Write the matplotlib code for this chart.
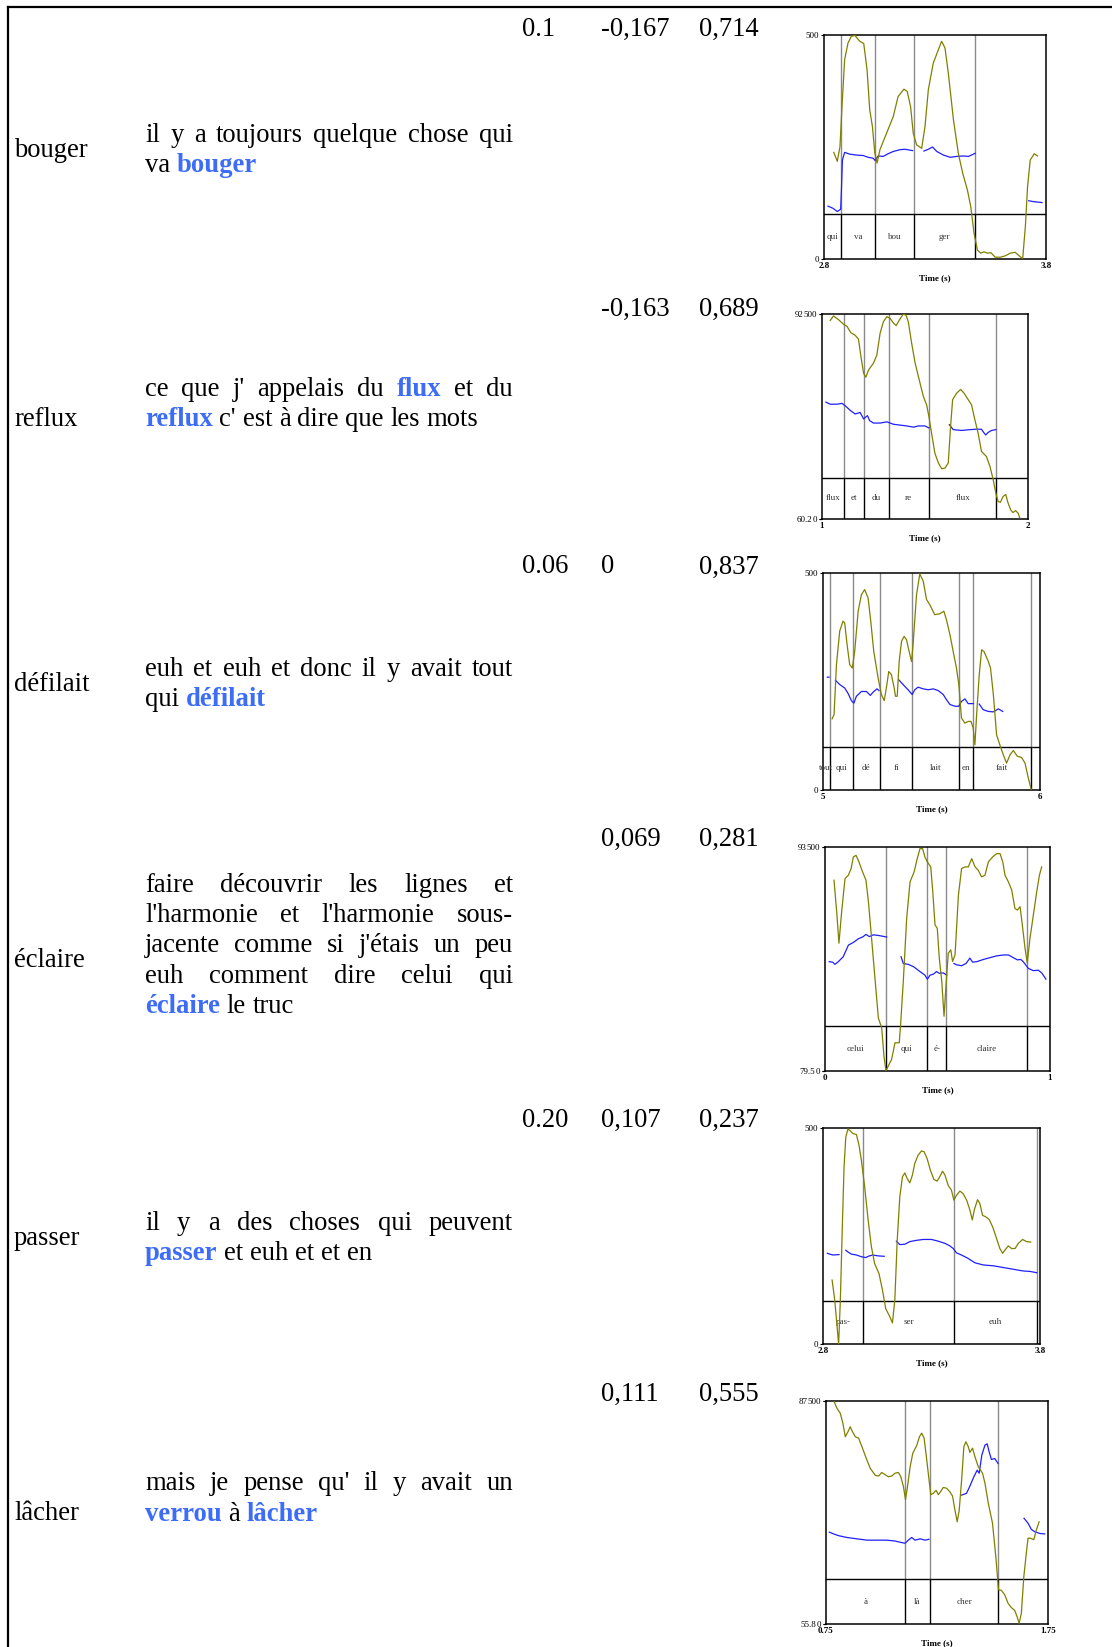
import matplotlib
matplotlib.use('Agg')
import matplotlib.pyplot as plt
from matplotlib.lines import Line2D

NAN = float('nan')

# ---------------- table data ----------------
row_words = ['bouger', 'reflux', 'défilait', 'éclaire', 'passer', 'lâcher']
sentences = [
    ["il y a toujours quelque chose qui", "va *bouger*"],
    ["ce que j' appelais du *flux* et du", "*reflux* c' est à dire que les mots"],
    ["euh et euh et donc il y avait tout", "qui *défilait*"],
    ["faire découvrir les lignes et", "l'harmonie et l'harmonie sous-",
     "jacente comme si j'étais un peu", "euh comment dire celui qui", "*éclaire* le truc"],
    ["il y a des choses qui peuvent", "*passer* et euh et et en"],
    ["mais je pense qu' il y avait un", "*verrou* à *lâcher*"],
]
col_a = ['0.1', '', '0.06', '', '0.20', '']
col_b = ['-0,167', '-0,163', '0', '0,069', '0,107', '0,111']
col_c = ['0,714', '0,689', '0,837', '0,281', '0,237', '0,555']

# ---------------- plot data ----------------
# plot 1
p1_time = (2.8, 3.8)
p1_olive_range = (0, 500)
p1_olive_labels = None
p1_xlabels = ('2.8', '3.8')
p1_bounds = [2.878, 3.030, 3.204, 3.481]
p1_tier = ['qui', 'va', 'bou', 'ger', '']
p1_olive_t = [2.844, 2.860, 2.872, 2.881, 2.893, 2.908, 2.923, 2.939, 2.961, 2.979, 2.994, 3.006, 3.018, 3.029,
              3.039, 3.052, 3.082, 3.112, 3.134, 3.160, 3.175, 3.190, 3.202, 3.217, 3.240, 3.255, 3.270, 3.292,
              3.315, 3.330, 3.345, 3.360, 3.383, 3.405, 3.425, 3.446, 3.461, 3.476, 3.491, 3.506, 3.521, 3.536,
              3.552, 3.571, 3.594, 3.616, 3.639, 3.661, 3.684, 3.695, 3.707, 3.717, 3.729, 3.747, 3.762]
p1_olive_v = [238, 218, 251, 340, 445, 482, 497, 499, 486, 481, 422, 333, 296, 236, 214, 244, 281, 318, 363, 379,
              374, 340, 281, 255, 247, 296, 378, 437, 467, 486, 471, 415, 311, 236, 191, 154, 117, 57, 20, 13, 16,
              13, 14, 4, 4, 7, 13, 15, 5, 1, 72, 162, 221, 235, 230]
p1_pitch_t = [2.818, 2.841, 2.860, 2.875, 2.878, 2.883, 2.893, 2.916, 2.946, 2.976, 2.999, 3.021, 3.030, 3.044,
              3.067, 3.089, 3.112, 3.142, 3.164, 3.199, NAN,
              3.250, 3.270, 3.289, 3.308, 3.338, 3.368, 3.398, 3.428, 3.451, 3.481, NAN,
              3.722, 3.744, 3.782]
p1_pitch_v = [118, 113, 106, 111, 147, 221, 238, 234, 232, 231, 227, 225, 220, 230, 229, 235, 240, 244, 245, 242,
              NAN, 241, 245, 250, 240, 232, 227, 229, 230, 229, 236, NAN, 130, 128, 126]

# plot 2
p2_time = (1, 2)
p2_olive_range = (60.2, 92)
p2_olive_labels = ('60.2', '92')
p2_xlabels = ('1', '2')
p2_bounds = [1.105, 1.202, 1.323, 1.519, 1.847]
p2_tier = ['flux', 'et', 'du', 're', 'flux', '']
p2_olive_t = [1.040, 1.056, 1.081, 1.105, 1.121, 1.140, 1.161, 1.177, 1.189, 1.202, 1.213, 1.226, 1.250, 1.266,
              1.282, 1.298, 1.315, 1.331, 1.347, 1.360, 1.376, 1.395, 1.408, 1.419, 1.435, 1.452, 1.468, 1.492,
              1.508, 1.519, 1.532, 1.548, 1.565, 1.581, 1.597, 1.613, 1.624, 1.634, 1.653, 1.673, 1.690, 1.710,
              1.726, 1.742, 1.758, 1.774, 1.798, 1.815, 1.831, 1.844, 1.855, 1.866, 1.879, 1.892, 1.903, 1.916,
              1.927, 1.940, 1.952, 1.960]
p2_olive_v = [91.0, 91.7, 91.1, 90.4, 90.1, 89.1, 88.7, 88.1, 85.4, 82.8, 82.2, 83.3, 84.4, 85.6, 89.0, 90.8,
              91.6, 91.3, 90.6, 90.2, 91.1, 92.0, 91.8, 90.8, 87.5, 84.4, 82.3, 79.2, 77.9, 76.1, 73.5, 70.4,
              68.9, 68.0, 68.1, 68.9, 74.5, 78.7, 79.7, 80.3, 79.7, 78.7, 77.9, 75.6, 73.5, 70.7, 69.9, 68.4,
              66.3, 64.2, 62.9, 62.8, 63.7, 64.0, 62.7, 61.6, 61.2, 61.5, 61.1, 60.4]
p2_pitch_t = [1.019, 1.040, 1.073, 1.097, 1.113, 1.137, 1.161, 1.185, 1.202, 1.215, 1.221, 1.231, 1.250, 1.282,
              1.315, 1.347, 1.379, 1.411, 1.444, 1.468, 1.500, 1.519, NAN,
              1.618, 1.637, 1.677, 1.718, 1.750, 1.774, 1.785, 1.795, 1.806, 1.823, 1.844]
p2_pitch_v = [285, 280, 280, 282, 276, 265, 256, 260, 244, 250, 252, 240, 234, 234, 237, 231, 229, 227, 224, 227,
              227, 222, NAN, 230, 218, 216, 218, 219, 219, 211, 205, 211, 216, 218]

# plot 3
p3_time = (5, 6)
p3_olive_range = (0, 500)
p3_olive_labels = None
p3_xlabels = ('5', '6')
p3_bounds = [5.031, 5.138, 5.262, 5.411, 5.626, 5.692, 5.960]
p3_tier = ['tout', 'qui', 'dé', 'fi', 'lait', 'en', 'fait', '']
p3_olive_t = [5.042, 5.051, 5.062, 5.077, 5.092, 5.100, 5.111, 5.123, 5.135, 5.146, 5.162, 5.177, 5.192, 5.208,
              5.220, 5.234, 5.254, 5.269, 5.282, 5.292, 5.303, 5.315, 5.328, 5.334, 5.342, 5.351, 5.362, 5.374,
              5.385, 5.397, 5.408, 5.415, 5.431, 5.446, 5.462, 5.477, 5.492, 5.515, 5.538, 5.557, 5.569, 5.585,
              5.600, 5.615, 5.626, 5.638, 5.654, 5.669, 5.682, 5.692, 5.700, 5.708, 5.720, 5.731, 5.742, 5.762,
              5.772, 5.785, 5.800, 5.815, 5.831, 5.846, 5.862, 5.877, 5.895, 5.915, 5.931, 5.946, 5.960]
p3_olive_v = [164, 174, 289, 366, 389, 385, 335, 289, 281, 319, 412, 450, 462, 442, 389, 319, 258, 220, 206, 235,
              273, 266, 235, 216, 216, 296, 343, 354, 346, 319, 296, 335, 450, 498, 481, 439, 427, 404, 406, 412,
              392, 358, 319, 281, 243, 166, 154, 158, 158, 143, 104, 174, 266, 323, 319, 296, 281, 220, 127, 104,
              81, 62, 81, 91, 78, 75, 62, 28, 0]
p3_pitch_t = [5.020, 5.028, NAN,
              5.057, 5.077, 5.100, 5.115, 5.131, 5.142, 5.154, 5.177, 5.200, 5.218, 5.234, 5.249, 5.258, NAN,
              5.349, 5.369, 5.392, 5.411, 5.423, 5.438, 5.462, 5.485, 5.508, 5.531, 5.554, 5.569, 5.585, 5.608,
              5.626, 5.638, 5.654, 5.669, 5.692, NAN,
              5.720, 5.738, 5.762, 5.785, 5.808, 5.828]
p3_pitch_v = [260, 260, NAN,
              253, 243, 235, 223, 206, 200, 216, 227, 227, 218, 227, 233, 229, NAN,
              254, 243, 231, 220, 231, 237, 233, 231, 233, 229, 220, 208, 197, 193, 193, 204, 210, 199, 199, NAN,
              198, 185, 181, 180, 187, 181]

# plot 4
p4_time = (0, 1)
p4_olive_range = (79.5, 93)
p4_olive_labels = ('79.5', '93')
p4_xlabels = ('0', '1')
p4_bounds = [0.271, 0.455, 0.539, 0.899]
p4_tier = ['celui', 'qui', 'é-', 'claire', '']
p4_olive_t = [0.040, 0.052, 0.062, 0.074, 0.089, 0.104, 0.116, 0.126, 0.138, 0.151, 0.167, 0.182, 0.193, 0.207,
              0.222, 0.237, 0.252, 0.262, 0.271, 0.281, 0.296, 0.311, 0.330, 0.336, 0.348, 0.363, 0.378, 0.396,
              0.410, 0.422, 0.434, 0.444, 0.455, 0.470, 0.479, 0.489, 0.499, 0.508, 0.519, 0.529, 0.538, 0.548,
              0.559, 0.567, 0.578, 0.593, 0.607, 0.622, 0.637, 0.652, 0.667, 0.681, 0.696, 0.711, 0.726, 0.745,
              0.763, 0.778, 0.790, 0.800, 0.815, 0.830, 0.844, 0.855, 0.867, 0.877, 0.889, 0.899, 0.911, 0.926,
              0.941, 0.953, 0.963]
p4_olive_v = [91.0, 89.1, 87.2, 89.1, 91.1, 91.3, 91.7, 92.4, 92.5, 92.1, 91.5, 91.0, 89.7, 87.5, 85.1, 82.7,
              82.1, 80.4, 79.5, 79.8, 80.2, 81.2, 81.2, 82.3, 84.9, 88.7, 90.9, 91.5, 92.3, 92.9, 92.9, 92.4,
              92.1, 91.8, 90.3, 88.3, 88.1, 86.3, 84.9, 82.8, 84.7, 86.6, 86.8, 86.1, 86.5, 90.1, 91.7, 91.8,
              91.8, 92.3, 91.8, 91.6, 91.2, 91.3, 92.1, 92.4, 92.6, 92.6, 92.1, 91.3, 90.9, 90.4, 89.3, 89.2,
              89.4, 88.3, 86.9, 86.0, 87.5, 88.9, 90.3, 91.3, 91.8]
p4_pitch_t = [0.019, 0.034, 0.044, 0.059, 0.081, 0.104, 0.126, 0.148, 0.170, 0.182, 0.197, 0.215, 0.244, 0.274, NAN,
              0.338, 0.348, 0.370, 0.393, 0.422, 0.444, 0.455, 0.467, 0.481, 0.496, 0.508, 0.526, 0.541, NAN,
              0.573, 0.585, 0.607, 0.627, 0.644, 0.656, 0.674, 0.704, 0.733, 0.763, 0.793, 0.815, 0.837, 0.855,
              0.870, 0.881, 0.904, 0.926, 0.948, 0.963, 0.982]
p4_pitch_v = [244, 243, 238, 244, 255, 281, 287, 295, 300, 305, 300, 304, 302, 299, NAN,
              255, 240, 238, 233, 222, 214, 205, 214, 216, 222, 218, 219, 214, NAN,
              240, 237, 235, 240, 252, 243, 244, 249, 253, 257, 259, 259, 253, 248, 249, 244, 229, 224, 225,
              219, 205]

# plot 5
p5_time = (2.8, 3.8)
p5_olive_range = (0, 500)
p5_olive_labels = None
p5_xlabels = ('2.8', '3.8')
p5_bounds = [2.985, 3.403, 3.785]
p5_tier = ['pas-', 'ser', 'euh', '']
p5_olive_t = [2.842, 2.854, 2.865, 2.872, 2.880, 2.889, 2.897, 2.905, 2.915, 2.926, 2.938, 2.954, 2.966, 2.977,
              2.992, 3.008, 3.023, 3.038, 3.058, 3.074, 3.089, 3.108, 3.120, 3.131, 3.142, 3.154, 3.166, 3.177,
              3.188, 3.200, 3.212, 3.223, 3.238, 3.254, 3.266, 3.280, 3.295, 3.311, 3.326, 3.338, 3.351, 3.362,
              3.377, 3.392, 3.403, 3.415, 3.431, 3.446, 3.462, 3.477, 3.488, 3.497, 3.512, 3.523, 3.535, 3.551,
              3.566, 3.582, 3.600, 3.615, 3.628, 3.638, 3.654, 3.669, 3.685, 3.700, 3.720, 3.738, 3.757]
p5_olive_v = [148, 102, 40, 0, 102, 271, 410, 479, 498, 493, 487, 485, 460, 425, 364, 287, 225, 186, 163, 125,
              82, 63, 49, 102, 240, 341, 387, 396, 383, 373, 391, 418, 437, 447, 445, 429, 402, 381, 377, 387,
              400, 391, 367, 356, 333, 344, 354, 348, 333, 310, 287, 310, 334, 325, 298, 294, 288, 271, 244, 221,
              210, 217, 227, 221, 221, 233, 242, 237, 236]
p5_pitch_t = [2.820, 2.831, 2.846, 2.874, NAN,
              2.905, 2.915, 2.931, 2.954, 2.977, 2.997, 3.008, 3.028, 3.054, 3.082, NAN,
              3.138, 3.154, 3.177, 3.200, 3.231, 3.262, 3.300, 3.331, 3.362, 3.385, 3.400, 3.415, 3.438, 3.469,
              3.500, 3.538, 3.585, 3.631, 3.677, 3.723, 3.754, 3.785]
p5_pitch_v = [210, 208, 206, 207, NAN,
              217, 213, 208, 206, 202, 200, 203, 206, 204, 203, NAN,
              238, 230, 231, 237, 240, 242, 242, 238, 233, 227, 221, 211, 206, 198, 188, 183, 181, 177, 173,
              169, 168, 165]

# plot 6
p6_time = (0.75, 1.75)
p6_olive_range = (55.8, 87)
p6_olive_labels = ('55.8', '87')
p6_xlabels = ('0.75', '1.75')
p6_bounds = [1.108, 1.217, 1.527]
p6_tier = ['à', 'là', 'cher', '']
p6_olive_t = [0.787, 0.799, 0.814, 0.826, 0.837, 0.849, 0.859, 0.871, 0.882, 0.897, 0.912, 0.931, 0.949, 0.972,
              0.987, 1.001, 1.016, 1.031, 1.046, 1.061, 1.076, 1.087, 1.099, 1.108, 1.117, 1.129, 1.141, 1.159,
              1.171, 1.181, 1.192, 1.204, 1.214, 1.222, 1.234, 1.246, 1.256, 1.266, 1.278, 1.293, 1.308, 1.320,
              1.331, 1.341, 1.350, 1.361, 1.371, 1.380, 1.391, 1.398, 1.410, 1.421, 1.436, 1.455, 1.466, 1.481,
              1.500, 1.515, 1.527, 1.540, 1.555, 1.570, 1.585, 1.600, 1.611, 1.620, 1.630, 1.641, 1.653, 1.660,
              1.671, 1.686, 1.698, 1.710]
p6_olive_v = [86.9, 86.0, 85.3, 83.9, 82.0, 82.7, 83.4, 82.6, 82.0, 81.8, 80.6, 79.0, 77.6, 76.6, 76.5, 77.0,
              76.7, 76.4, 76.5, 76.9, 77.0, 76.4, 75.0, 73.2, 75.0, 77.8, 79.7, 80.8, 82.0, 82.5, 81.8, 78.7,
              76.0, 73.9, 74.1, 74.5, 73.9, 74.3, 74.9, 74.8, 74.3, 73.7, 71.7, 70.1, 71.7, 76.0, 80.6, 81.3,
              80.6, 79.8, 80.4, 79.2, 77.8, 76.9, 75.5, 72.7, 69.9, 65.2, 60.6, 60.5, 59.9, 58.7, 58.1, 57.7,
              56.8, 55.9, 57.3, 62.4, 65.9, 67.8, 67.8, 67.6, 69.0, 70.1]
p6_pitch_t = [0.765, 0.784, 0.807, 0.844, 0.889, 0.934, 0.979, 1.024, 1.061, 1.087, 1.106, 1.121, 1.136, 1.151,
              1.174, 1.196, 1.214, NAN,
              1.361, 1.383, 1.398, 1.416, 1.431, 1.440, 1.452, 1.466, 1.476, 1.485, 1.495, 1.510, 1.525, NAN,
              1.642, 1.660, 1.675, 1.690, 1.713, 1.735]
p6_pitch_v = [206, 202, 198, 194, 191, 188, 188, 188, 186, 183, 181, 188, 194, 188, 191, 188, 190, NAN,
              289, 293, 309, 330, 345, 338, 379, 401, 404, 386, 369, 371, 360, NAN,
              237, 226, 212, 207, 203, 202]

pitch_range = (0, 500)
pitch_labels = ('0', '500')

# ---------------- layout / style ----------------
W, H = 1112, 1647
SERIF = ['Liberation Serif', 'DejaVu Serif']
FS = 19.2
BLUE_TXT = '#3d6cf8'
OLIVE = '#808000'
PITCH = '#1f1fff'

fig = plt.figure(figsize=(W / 100, H / 100), dpi=100)
renderer = fig.canvas.get_renderer()


def fpos(x, y):
    return x / W, 1 - y / H


# table borders
fig.add_artist(Line2D([8 / W, 8 / W], [0, 1 - 7 / H], color='black', lw=1.6, transform=fig.transFigure))
fig.add_artist(Line2D([8 / W, 1], [1 - 7 / H, 1 - 7 / H], color='black', lw=1.6, transform=fig.transFigure))

word_x = 14
sent_x0, sent_x1 = 145, 513
num_x = [522, 601, 699]
num_base = [35.5, 316, 573.5, 845.5, 1127, 1401]
sent_base = [141.7, 395.8, 676, 891.7, 1229.5, 1490.5]
word_base = [156.7, 426, 691, 967, 1245, 1520]
LINE_H = 30.4
SPACE = 0.25 * FS * 100 / 72


def put_line(line, y, justify):
    items = []
    for tok in line.split(' '):
        hl = tok.startswith('*') and tok.endswith('*')
        s = tok.strip('*')
        t = fig.text(0, 0, s, fontsize=FS, family=SERIF,
                     fontweight='bold' if hl else 'normal',
                     color=BLUE_TXT if hl else 'black', va='baseline', ha='left')
        w = t.get_window_extent(renderer).width
        items.append((t, w))
    total = sum(w for _, w in items)
    gap = (sent_x1 - sent_x0 - total) / (len(items) - 1) if (justify and len(items) > 1) else SPACE
    x = sent_x0
    for t, w in items:
        t.set_position(fpos(x, y))
        x += w + gap


for i in range(6):
    fig.text(*fpos(word_x, word_base[i]), row_words[i], fontsize=FS, family=SERIF, va='baseline', ha='left')
    for j, col in enumerate((col_a, col_b, col_c)):
        if col[i]:
            fig.text(*fpos(num_x[j], num_base[i]), col[i], fontsize=FS, family=SERIF, va='baseline', ha='left')
    lines = sentences[i]
    for k, line in enumerate(lines):
        put_line(line, sent_base[i] + k * LINE_H, justify=(k < len(lines) - 1))

# ---------------- Praat-like plots ----------------
rects = [(824, 35, 1046, 259), (822, 314, 1028, 519), (823, 573, 1040, 790),
         (825, 847, 1050, 1071), (823, 1128, 1040, 1344), (826, 1401, 1048, 1624)]
plots = [
    (p1_time, p1_olive_range, p1_olive_labels, p1_xlabels, p1_bounds, p1_tier, p1_olive_t, p1_olive_v, p1_pitch_t, p1_pitch_v),
    (p2_time, p2_olive_range, p2_olive_labels, p2_xlabels, p2_bounds, p2_tier, p2_olive_t, p2_olive_v, p2_pitch_t, p2_pitch_v),
    (p3_time, p3_olive_range, p3_olive_labels, p3_xlabels, p3_bounds, p3_tier, p3_olive_t, p3_olive_v, p3_pitch_t, p3_pitch_v),
    (p4_time, p4_olive_range, p4_olive_labels, p4_xlabels, p4_bounds, p4_tier, p4_olive_t, p4_olive_v, p4_pitch_t, p4_pitch_v),
    (p5_time, p5_olive_range, p5_olive_labels, p5_xlabels, p5_bounds, p5_tier, p5_olive_t, p5_olive_v, p5_pitch_t, p5_pitch_v),
    (p6_time, p6_olive_range, p6_olive_labels, p6_xlabels, p6_bounds, p6_tier, p6_olive_t, p6_olive_v, p6_pitch_t, p6_pitch_v),
]
SFS = 6.5
TIER_FRAC = 0.2

for rect, (trange, orange, olabels, xlabels, bounds, tier, ot, ov, pt, pv) in zip(rects, plots):
    x0, y0, x1, y1 = rect
    ax = fig.add_axes([x0 / W, 1 - y1 / H, (x1 - x0) / W, (y1 - y0) / H])
    ax.set_xlim(*trange)
    ax.set_ylim(*pitch_range)
    for sp in ax.spines.values():
        sp.set_linewidth(1.1)
    # tier separator
    ax.axhline(pitch_range[0] + TIER_FRAC * (pitch_range[1] - pitch_range[0]), color='black', lw=1.0)
    for b in bounds:
        ax.axvline(b, ymin=TIER_FRAC, ymax=1, color='#8a8a8a', lw=1.0)
        ax.axvline(b, ymin=0, ymax=TIER_FRAC, color='black', lw=1.0)
    edges = [trange[0]] + bounds + [trange[1]]
    for k, lab in enumerate(tier):
        if lab:
            ax.text((edges[k] + edges[k + 1]) / 2, TIER_FRAC / 2, lab, transform=ax.get_xaxis_transform(),
                    ha='center', va='center', fontsize=SFS, family=SERIF, color='#333333')
    ax.plot(pt, pv, color=PITCH, lw=0.9, zorder=3)
    ax.set_yticks(list(pitch_range))
    ax.set_yticklabels(list(pitch_labels), fontsize=SFS, family=SERIF)
    ax.tick_params(axis='y', direction='out', length=2.5, width=0.8, pad=1)
    ax.set_xticks(list(trange))
    ax.set_xticklabels(list(xlabels), fontsize=SFS, family=SERIF, fontweight='bold')
    ax.tick_params(axis='x', length=0, pad=2)
    ax.set_xlabel('Time (s)', fontsize=SFS, family=SERIF, fontweight='bold', labelpad=3)

    axo = ax.twinx()
    axo.set_ylim(*orange)
    for sp in axo.spines.values():
        sp.set_visible(False)
    axo.plot(ot, ov, color=OLIVE, lw=0.9, zorder=2)
    axo.yaxis.tick_left()
    if olabels:
        axo.set_yticks(list(orange))
        # place the intensity labels just to the left of the pitch labels
        pad_px = [ax.yaxis.get_ticklabels()[n].get_window_extent(renderer).width for n in range(2)]
        axo.set_yticklabels(list(olabels), fontsize=SFS, family=SERIF)
        axo.tick_params(axis='y', direction='out', length=2.5, width=0.8)
        for n, tk in enumerate(axo.yaxis.get_major_ticks()):
            tk.set_pad(1 + pad_px[n] * 72 / 100 + 0.3)
    else:
        axo.set_yticks([])

fig.savefig('out.png', dpi=100, facecolor='white')
